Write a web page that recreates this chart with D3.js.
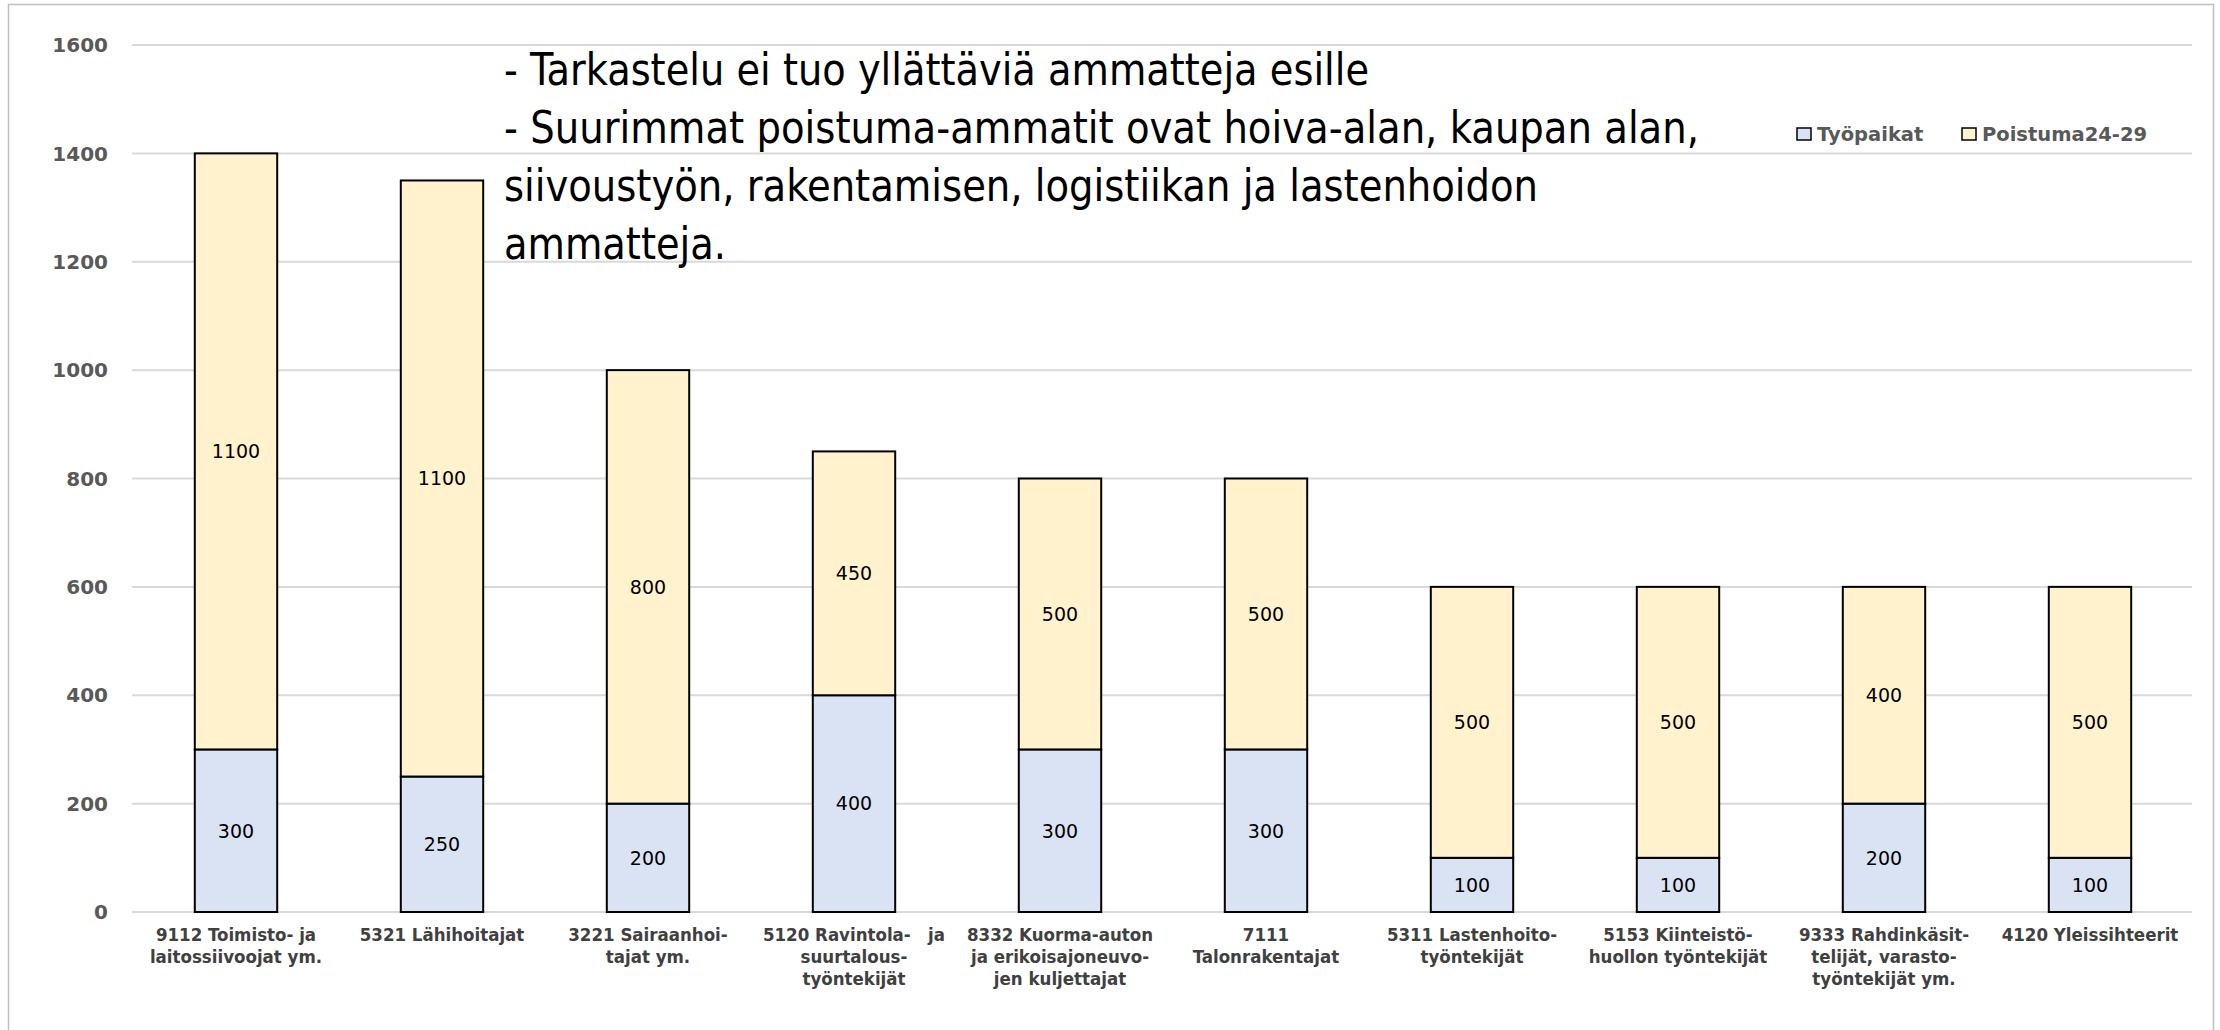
<!DOCTYPE html>
<html>
<head>
<meta charset="utf-8">
<script src="https://cdn.jsdelivr.net/npm/d3@7"></script>
<style>
  body { margin: 0; background: #fff; }
  svg { display: block; }
</style>
</head>
<body>
<svg id="chart" width="2220" height="1030"></svg>
<script>
// Chart data
const categories = [
    "9112 Toimisto- ja laitossiivoojat ym.",
    "5321 Lähihoitajat",
    "3221 Sairaanhoitajat ym.",
    "5120 Ravintola- ja suurtalous-työntekijät",
    "8332 Kuorma-auton ja erikoisajoneuvojen kuljettajat",
    "7111 Talonrakentajat",
    "5311 Lastenhoitotyöntekijät",
    "5153 Kiinteistöhuollon työntekijät",
    "9333 Rahdinkäsittelijät, varastotyöntekijät ym.",
    "4120 Yleissihteerit"
];
// wrapped label lines, as shown on the axis
const categoryLines = [
    ["9112 Toimisto- ja", "laitossiivoojat ym."],
    ["5321 Lähihoitajat"],
    ["3221 Sairaanhoi-", "tajat ym."],
    ["5120 Ravintola-   ja", "suurtalous-", "työntekijät"],
    ["8332 Kuorma-auton", "ja erikoisajoneuvo-", "jen kuljettajat"],
    ["7111", "Talonrakentajat"],
    ["5311 Lastenhoito-", "työntekijät"],
    ["5153 Kiinteistö-", "huollon työntekijät"],
    ["9333 Rahdinkäsit-", "telijät, varasto-", "työntekijät ym."],
    ["4120 Yleissihteerit"]
];
const tyopaikat = [300, 250, 200, 400, 300, 300, 100, 100, 200, 100];
const poistuma = [1100, 1100, 800, 450, 500, 500, 500, 500, 400, 500];
const seriesNames = ["Työpaikat", "Poistuma24-29"];
const seriesColours = ["#DAE3F3", "#FFF2CC"];
const yTicks = [0, 200, 400, 600, 800, 1000, 1200, 1400, 1600];
const noteLines = [
    "- Tarkastelu ei tuo yllättäviä ammatteja esille",
    "- Suurimmat poistuma-ammatit ovat hoiva-alan, kaupan alan,",
    "siivoustyön, rakentamisen, logistiikan ja lastenhoidon",
    "ammatteja."
];

const svg = d3.select("#chart");
const plotLeft = 132, plotRight = 2192, plotTop = 45, plotBottom = 912;

// outer frame
svg.append("rect")
    .attr("x", 8.5).attr("y", 4.5)
    .attr("width", 2205).attr("height", 1030)
    .attr("fill", "#fff")
    .attr("stroke", "#bfbfbf")
    .attr("stroke-width", 1.5);

const x = d3.scaleBand()
    .domain(categories)
    .range([plotLeft, plotRight])
    .paddingInner(0.6)
    .paddingOuter(0.3);

const y = d3.scaleLinear()
    .domain([0, 1600])
    .range([plotBottom, plotTop]);

// gridlines
svg.append("g")
    .selectAll("line")
    .data(yTicks)
    .enter().append("line")
    .attr("x1", plotLeft)
    .attr("x2", plotRight)
    .attr("y1", d => y(d))
    .attr("y2", d => y(d))
    .attr("stroke", "#d9d9d9")
    .attr("stroke-width", 2);

// y tick labels
svg.append("g")
    .selectAll("text")
    .data(yTicks)
    .enter().append("text")
    .attr("x", 108)
    .attr("y", d => y(d))
    .attr("dy", "0.36em")
    .attr("text-anchor", "end")
    .attr("font-family", "'DejaVu Sans', sans-serif")
    .attr("font-weight", "bold")
    .attr("font-size", "20px")
    .attr("fill", "#595959")
    .text(d => d);

// stack the two series
const rows = categories.map((c, i) => ({ cat: c, a: tyopaikat[i], b: poistuma[i] }));
const stacked = d3.stack().keys(["a", "b"])(rows);

const layer = svg.append("g")
    .selectAll("g")
    .data(stacked)
    .enter().append("g")
    .attr("fill", (d, i) => seriesColours[i]);

layer.selectAll("rect")
    .data(d => d)
    .enter().append("rect")
    .attr("x", d => x(d.data.cat) + 1)
    .attr("width", x.bandwidth())
    .attr("y", d => y(d[1]))
    .attr("height", d => y(d[0]) - y(d[1]))
    .attr("stroke", "#000")
    .attr("stroke-width", 2);

// value labels in the middle of each segment
layer.selectAll("text")
    .data(d => d)
    .enter().append("text")
    .attr("x", d => x(d.data.cat) + 1 + x.bandwidth() / 2)
    .attr("y", d => y((d[0] + d[1]) / 2))
    .attr("dy", "0.36em")
    .attr("text-anchor", "middle")
    .attr("font-family", "'DejaVu Sans', sans-serif")
    .attr("font-size", "19px")
    .attr("fill", "#000")
    .text(d => d[1] - d[0]);

// category labels
const catLabel = svg.append("g")
    .selectAll("text")
    .data(categories)
    .enter().append("text")
    .attr("x", d => x(d) + 1 + x.bandwidth() / 2)
    .attr("y", 941)
    .attr("text-anchor", "middle")
    .attr("font-family", "'Liberation Sans Narrow', 'DejaVu Sans Condensed', sans-serif")
    .attr("font-weight", "bold")
    .attr("font-size", "18.5px")
    .attr("fill", "#404040")
    .style("white-space", "pre");

catLabel.selectAll("tspan")
    .data((d, i) => categoryLines[i])
    .enter().append("tspan")
    .attr("x", function() { return this.parentNode.getAttribute("x"); })
    .attr("dy", (d, i) => i === 0 ? 0 : 22)
    .text(d => d);

// legend
const legend = svg.append("g")
    .selectAll("g")
    .data(seriesNames)
    .enter().append("g")
    .attr("transform", (d, i) => "translate(" + [1797, 1962][i] + ",134)");

legend.append("rect")
    .attr("x", 0).attr("y", -6)
    .attr("width", 14).attr("height", 12)
    .attr("fill", (d, i) => seriesColours[i])
    .attr("stroke", "#000")
    .attr("stroke-width", 1.5);

legend.append("text")
    .attr("x", 20)
    .attr("dy", "0.36em")
    .attr("font-family", "'DejaVu Sans', sans-serif")
    .attr("font-weight", "bold")
    .attr("font-size", "19.5px")
    .attr("fill", "#595959")
    .text(d => d);

// annotation text
const noteWidths = [865, 1195, 1034, 222];
svg.append("g")
    .selectAll("text")
    .data(noteLines)
    .enter().append("text")
    .attr("x", 504)
    .attr("y", (d, i) => 85 + i * 58)
    .attr("font-family", "'Liberation Sans Narrow', 'DejaVu Sans Condensed', sans-serif")
    .attr("font-size", "44px")
    .attr("fill", "#000")
    .attr("textLength", (d, i) => noteWidths[i])
    .attr("lengthAdjust", "spacingAndGlyphs")
    .text(d => d);
</script>
</body>
</html>
